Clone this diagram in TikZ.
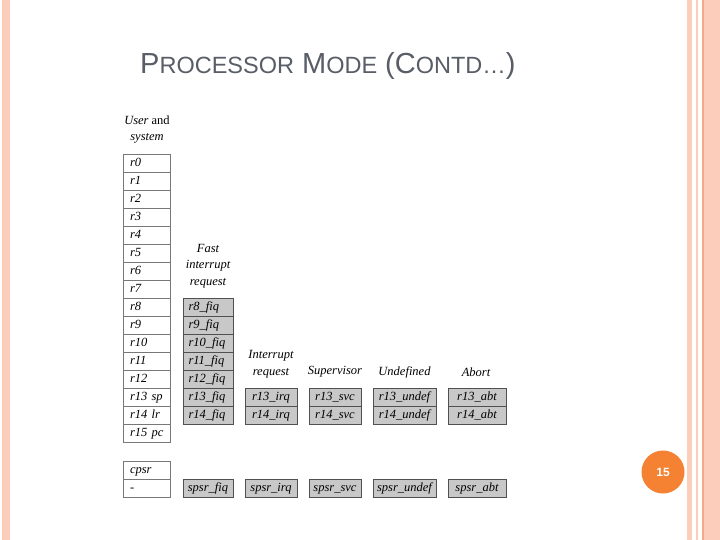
\documentclass[tikz,border=0pt]{standalone}
\usepackage{fontspec}
\setmainfont{Liberation Serif}
\newfontfamily\titlefont{Liberation Sans}
\usetikzlibrary{shapes}

\definecolor{barpink}{RGB}{251,205,186}
\definecolor{barorange}{RGB}{245,170,135}
\definecolor{titlegray}{RGB}{88,93,102}
\definecolor{regline}{RGB}{120,120,120}
\definecolor{bankline}{RGB}{80,80,80}
\definecolor{bankfill}{RGB}{200,200,200}
\definecolor{pgorange}{RGB}{245,130,50}

\newcommand\regfont{\fontsize{12.5}{16.5}\selectfont\itshape}
\newcommand\tsmall[1]{{\fontsize{23.5}{26}\selectfont #1}}

\begin{document}
\begin{tikzpicture}[x=1pt,y=-1pt,
    reg/.style={draw=regline,rectangle,minimum height=18pt,inner ysep=3pt,inner xsep=4pt,text height=9pt,text depth=3pt,text width=39pt,align=left,font=\regfont,execute at begin node=\hspace*{3pt}},
    fiqbox/.style={draw=bankline,fill=bankfill,rectangle,minimum height=18pt,inner ysep=3pt,inner xsep=4pt,text height=9pt,text depth=3pt,text width=42pt,align=left,font=\regfont,execute at begin node=\hspace*{1.5pt}},
    bank/.style={draw=bankline,fill=bankfill,rectangle,minimum height=18pt,inner xsep=0pt,inner ysep=3pt,text height=9pt,text depth=3pt,font=\regfont},
    head/.style={align=center,font=\regfont,inner sep=0pt}]

  % slide frame
  \fill[white] (0,0) rectangle (720,540);
  \fill[barpink] (2,0) rectangle (10,540);
  \fill[barpink] (687,0) rectangle (692,540);
  \fill[barpink] (696,0) rectangle (698,540);
  \fill[barpink] (702,0) rectangle (720,540);
  \fill[barorange] (702,0) rectangle (703.5,540);

  \node[anchor=base west,inner sep=0pt,text=titlegray,font=\titlefont\fontsize{29}{30}\selectfont] at (140,74) (title)
    {P\tsmall{ROCESSOR} M\tsmall{ODE} (C\tsmall{ONTD\ldots})};

  % user and system
  \node[head] at (147,129.5) (h-usr) {User {\upshape and}\\system};
  \node[reg] at (146.5,163.5) (usr-0) {r0};
  \node[reg] at (146.5,181.5) (usr-1) {r1};
  \node[reg] at (146.5,199.5) (usr-2) {r2};
  \node[reg] at (146.5,217.5) (usr-3) {r3};
  \node[reg] at (146.5,235.5) (usr-4) {r4};
  \node[reg] at (146.5,253.5) (usr-5) {r5};
  \node[reg] at (146.5,271.5) (usr-6) {r6};
  \node[reg] at (146.5,289.5) (usr-7) {r7};
  \node[reg] at (146.5,307.5) (usr-8) {r8};
  \node[reg] at (146.5,325.5) (usr-9) {r9};
  \node[reg] at (146.5,343.5) (usr-10) {r10};
  \node[reg] at (146.5,361.5) (usr-11) {r11};
  \node[reg] at (146.5,379.5) (usr-12) {r12};
  \node[reg] at (146.5,397.5) (usr-13) {r13 sp};
  \node[reg] at (146.5,415.5) (usr-14) {r14 lr};
  \node[reg] at (146.5,433.5) (usr-15) {r15 pc};
  \node[reg] at (146.5,470) (usr-cpsr) {cpsr};
  \node[reg] at (146.5,488) (usr-psr) {-};

  % fast interrupt request
  \node[head] at (208,266) (h-fiq) {Fast\\interrupt\\request};
  \node[fiqbox] at (208,307.5) (fiq-8) {r8\_fiq};
  \node[fiqbox] at (208,325.5) (fiq-9) {r9\_fiq};
  \node[fiqbox] at (208,343.5) (fiq-10) {r10\_fiq};
  \node[fiqbox] at (208,361.5) (fiq-11) {r11\_fiq};
  \node[fiqbox] at (208,379.5) (fiq-12) {r12\_fiq};
  \node[fiqbox] at (208,397.5) (fiq-13) {r13\_fiq};
  \node[fiqbox] at (208,415.5) (fiq-14) {r14\_fiq};
  \node[bank,minimum width=50pt] at (208,488) (fiq-spsr) {spsr\_fiq};

  % interrupt request
  \node[head] at (271,364) (h-irq) {Interrupt\\request};
  \node[bank,minimum width=52pt] at (271,397.5) (irq-13) {r13\_irq};
  \node[bank,minimum width=52pt] at (271,415.5) (irq-14) {r14\_irq};
  \node[bank,minimum width=52pt] at (271,488) (irq-spsr) {spsr\_irq};

  % supervisor
  \node[head] at (335,372) (h-svc) {Supervisor};
  \node[bank,minimum width=52pt] at (335,397.5) (svc-13) {r13\_svc};
  \node[bank,minimum width=52pt] at (335,415.5) (svc-14) {r14\_svc};
  \node[bank,minimum width=52pt] at (335,488) (svc-spsr) {spsr\_svc};

  % undefined
  \node[head] at (404.5,372) (h-und) {Undefined};
  \node[bank,minimum width=63pt] at (404.5,397.5) (und-13) {r13\_undef};
  \node[bank,minimum width=63pt] at (404.5,415.5) (und-14) {r14\_undef};
  \node[bank,minimum width=63pt] at (404.5,488) (und-spsr) {spsr\_undef};

  % abort
  \node[head] at (476,372) (h-abt) {Abort};
  \node[bank,minimum width=58pt] at (477,397.5) (abt-13) {r13\_abt};
  \node[bank,minimum width=58pt] at (477,415.5) (abt-14) {r14\_abt};
  \node[bank,minimum width=58pt] at (477,488) (abt-spsr) {spsr\_abt};

  % page number
  \node[circle,fill=pgorange,minimum size=43pt,inner sep=0pt,text=white,font=\titlefont\bfseries\fontsize{12}{14}\selectfont] at (663,472) (pgnum) {15};
\end{tikzpicture}
\end{document}
